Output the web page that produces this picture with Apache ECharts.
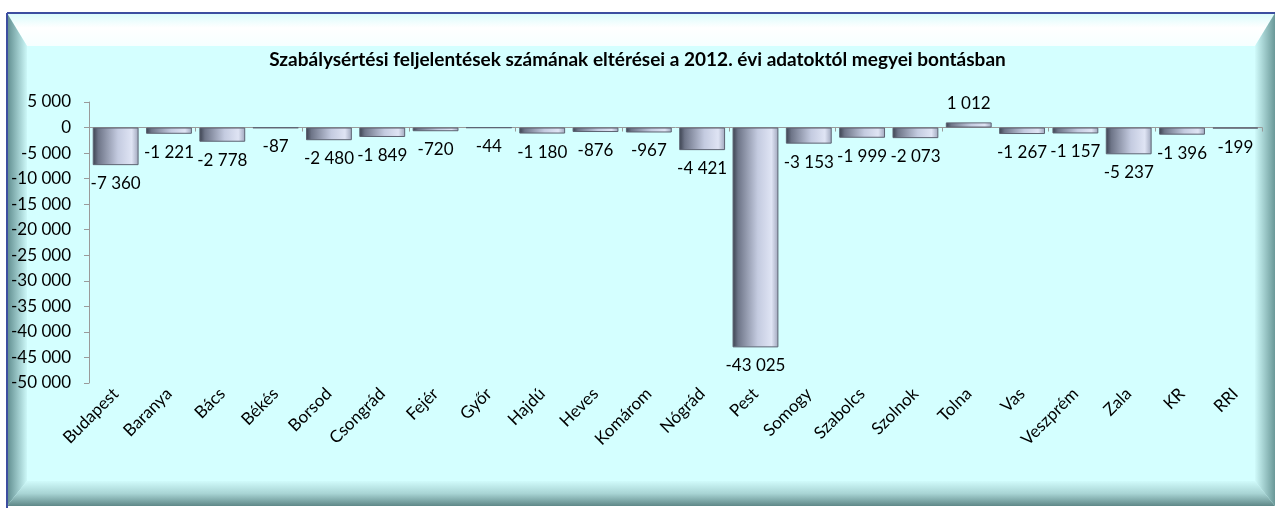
<!DOCTYPE html>
<html>
<head>
<meta charset="utf-8">
<script src="https://cdn.jsdelivr.net/npm/echarts@6/dist/echarts.min.js"></script>
<style>
  html, body { margin: 0; padding: 0; background: #ffffff; }
  #main { width: 1275px; height: 508px; }
</style>
</head>
<body>
<div id="main"></div>
<script>
// megyék
var megyek = ['Budapest', 'Baranya', 'Bács', 'Békés', 'Borsod', 'Csongrád', 'Fejér', 'Győr',
  'Hajdú', 'Heves', 'Komárom', 'Nógrád', 'Pest', 'Somogy', 'Szabolcs', 'Szolnok', 'Tolna',
  'Vas', 'Veszprém', 'Zala', 'KR', 'RRI'];
// eltérés 2012-höz képest
var elteres = [-7360, -1221, -2778, -87, -2480, -1849, -720, -44, -1180, -876, -967, -4421,
  -43025, -3153, -1999, -2073, 1012, -1267, -1157, -5237, -1396, -199];
var yMin = -50000, yMax = 5000, yLepes = 5000;

// ezres tagolás szóközzel
function szam(v) {
  var s = String(Math.abs(v)).replace(/\B(?=(\d{3})+(?!\d))/g, ' ');
  return (v < 0 ? '-' : '') + s;
}

var myChart = echarts.init(document.getElementById('main'));

var L = 7, T = 13, R = 1275, B = 506;

myChart.setOption({
  animation: false,
  textStyle: { fontFamily: 'Lato, "Open Sans", sans-serif' },
  graphic: [
    { type: 'rect', z: -10, shape: { x: L, y: T, width: R - L, height: B - T }, style: { fill: '#d4ffff' } },
    { type: 'polygon', z: -9, shape: { points: [[L, T], [R, T], [R - 20, 46], [L + 20, 46]] },
      style: { fill: new echarts.graphic.LinearGradient(0, 0, 0, 1, [
        { offset: 0, color: '#d8fbfb' }, { offset: 0.45, color: '#ffffff' }, { offset: 1, color: '#f6ffff' }]) } },
    { type: 'polygon', z: -9, shape: { points: [[L, T], [L + 20, 46], [L + 20, B - 25], [L, B]] },
      style: { fill: new echarts.graphic.LinearGradient(0, 0, 1, 0, [
        { offset: 0, color: '#5f8c8e' }, { offset: 1, color: '#ccf8f8' }]) } },
    { type: 'polygon', z: -9, shape: { points: [[L, B], [L + 20, B - 25], [R - 20, B - 25], [R, B]] },
      style: { fill: new echarts.graphic.LinearGradient(0, 0, 0, 1, [
        { offset: 0, color: '#d0fbfb' }, { offset: 0.5, color: '#a8d4d4' }, { offset: 1, color: '#5f8888' }]) } },
    { type: 'polygon', z: -9, shape: { points: [[R, T], [R - 20, 46], [R - 20, B - 25], [R, B]] },
      style: { fill: new echarts.graphic.LinearGradient(0, 0, 1, 0, [
        { offset: 0, color: '#d0fbfb' }, { offset: 1, color: '#6a9898' }]) } },
    { type: 'line', z: -8, shape: { x1: L, y1: T, x2: R, y2: T }, style: { stroke: '#3d4ea0', lineWidth: 2 } },
    { type: 'line', z: -8, shape: { x1: L, y1: T, x2: L, y2: B + 2 }, style: { stroke: '#3d4ea0', lineWidth: 2 } }
  ],
  title: {
    text: 'Szabálysértési feljelentések számának eltérései a 2012. évi adatoktól megyei bontásban',
    left: 'center',
    top: 45,
    textStyle: { fontSize: 19, fontWeight: 'bold', color: '#000', fontFamily: 'Lato, sans-serif' }
  },
  grid: { left: 89, right: 13, top: 102, bottom: 125 },
  xAxis: [
    {
      type: 'category',
      data: megyek,
      axisLine: { onZero: true, lineStyle: { color: '#9a9a9a', width: 1 } },
      axisTick: { show: true, length: 4, lineStyle: { color: '#9a9a9a' } },
      axisLabel: { show: false }
    },
    {
      type: 'category',
      data: megyek,
      position: 'bottom',
      axisLine: { show: false, onZero: false },
      axisTick: { show: false },
      axisLabel: { interval: 0, rotate: 45, margin: 8, fontSize: 17, color: '#000' }
    }
  ],
  yAxis: {
    type: 'value',
    min: yMin,
    max: yMax,
    interval: yLepes,
    splitLine: { show: false },
    axisLine: { show: true, lineStyle: { color: '#9a9a9a' } },
    axisTick: { show: true, length: 5, lineStyle: { color: '#9a9a9a' } },
    axisLabel: { fontSize: 17, color: '#000', margin: 18, formatter: szam }
  },
  series: [{
    type: 'bar',
    xAxisIndex: 0,
    barCategoryGap: '14%',
    data: elteres.map(function (v) {
      return { value: v, label: { position: v < 0 ? 'bottom' : 'top' } };
    }),
    itemStyle: {
      color: new echarts.graphic.LinearGradient(0, 0, 1, 0, [
        { offset: 0, color: '#3a404e' },
        { offset: 0.12, color: '#6e7588' },
        { offset: 0.55, color: '#c4cbe0' },
        { offset: 0.85, color: '#dfe4f4' },
        { offset: 1, color: '#9ea6bc' }
      ]),
      borderColor: '#5d6372',
      borderWidth: 1
    },
    label: {
      show: true,
      fontSize: 17,
      color: '#000',
      distance: 10,
      formatter: function (p) { return szam(p.value); }
    }
  }]
});
</script>
</body>
</html>
